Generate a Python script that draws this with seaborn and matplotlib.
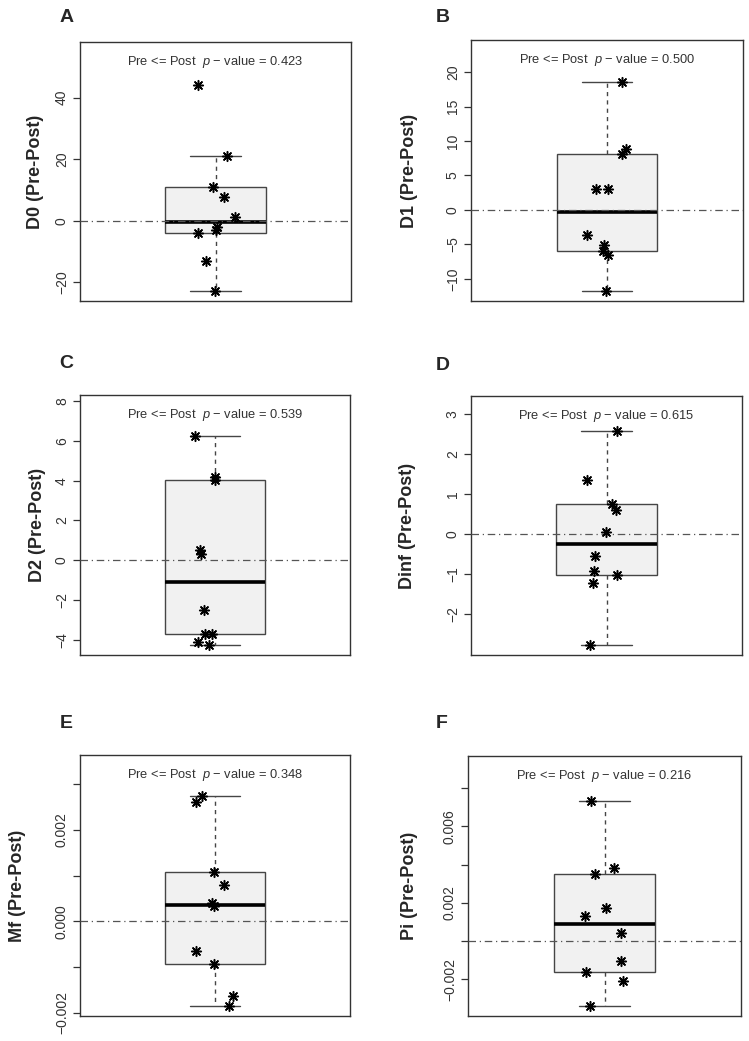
# Pre vs Post differences: six boxplots with jittered points (panels A-F)

import numpy as np
import matplotlib
matplotlib.use("Agg")
import matplotlib.pyplot as plt
import seaborn as sns

sns.set_theme(style="ticks")
plt.rcParams['font.family'] = ['Liberation Sans', 'DejaVu Sans']
plt.rcParams['mathtext.fontset'] = 'custom'
plt.rcParams['mathtext.it'] = 'Liberation Sans:italic'
plt.rcParams['mathtext.rm'] = 'Liberation Sans'

# ---- data (Pre - Post differences) ----
d0 = [44.0, 21.0, 11.1, 7.8, 1.1, -2.2, -3.1, -4.0, -13.0, -23.0]
d1 = [18.6, 8.9, 8.15, 3.06, 3.06, -3.64, -5.1, -6.0, -6.5, -11.8]
d2 = [6.26, 4.16, 4.04, 0.51, 0.32, -2.49, -3.70, -3.74, -4.14, -4.29]
dinf = [2.56, 1.35, 0.75, 0.59, 0.05, -0.55, -0.93, -1.01, -1.21, -2.77]
mf = [0.00274, 0.00260, 0.00108, 0.00079, 0.00039, 0.00034,
      -0.00065, -0.00094, -0.00164, -0.00186]
pi = [0.00734, 0.00381, 0.00351, 0.00174, 0.00132, 0.00044,
      -0.00104, -0.00162, -0.00210, -0.00341]

panel_letters = ['A', 'B', 'C', 'D', 'E', 'F']
variables = ['D0', 'D1', 'D2', 'Dinf', 'Mf', 'Pi']
p_values = ['0.423', '0.500', '0.539', '0.615', '0.348', '0.216']
series = [d0, d1, d2, dinf, mf, pi]

# y ticks and which of them carry a label
tick_sets = [
    ([-20, 0, 20, 40], ['\u221220', '0', '20', '40']),
    ([-10, -5, 0, 5, 10, 15, 20], ['\u221210', '\u22125', '0', '5', '10', '15', '20']),
    ([-4, -2, 0, 2, 4, 6, 8], ['\u22124', '\u22122', '0', '2', '4', '6', '8']),
    ([-2, -1, 0, 1, 2, 3], ['\u22122', '\u22121', '0', '1', '2', '3']),
    ([-0.002, -0.001, 0, 0.001, 0.002, 0.003], ['\u22120.002', '', '0.000', '', '0.002', '']),
    ([-0.002, 0, 0.002, 0.004, 0.006, 0.008], ['\u22120.002', '', '0.002', '', '0.006', '']),
]

# layout in pixels: (left, top, right, bottom), label x, ylabel x
W, H = 749, 1041
boxes_px = [(80, 42, 351, 301), (471, 40, 743, 301),
            (80, 395, 350, 655), (471, 396, 742, 655),
            (80, 755, 350, 1016), (468, 756, 741, 1016)]
letter_px = [(67, 18), (443, 18), (66, 363), (443, 365), (66, 723), (442, 723)]
ylabel_x = [35, 410, 37, 408, 18, 409]


def fivenum_stats(values):
    """Tukey hinges + whiskers at 1.5 IQR (like R's boxplot)"""
    x = np.sort(np.asarray(values, dtype=float))
    n = len(x)
    n4 = np.floor((n + 3) / 2) / 2
    d = np.array([1, n4, (n + 1) / 2, n + 1 - n4, n]) - 1
    fn = 0.5 * (x[np.floor(d).astype(int)] + x[np.ceil(d).astype(int)])
    q1, med, q3 = fn[1], fn[2], fn[3]
    iqr = q3 - q1
    lo = x[x >= q1 - 1.5 * iqr].min()
    hi = x[x <= q3 + 1.5 * iqr].max()
    return dict(med=med, q1=q1, q3=q3, whislo=lo, whishi=hi, fliers=[])


fig = plt.figure(figsize=(W / 100, H / 100), dpi=100)
fig.patch.set_facecolor('white')
rng_seed = 7

edge = '#454545'
for i, vals in enumerate(series):
    l, t, r, b = boxes_px[i]
    ax = fig.add_axes([l / W, 1 - b / H, (r - l) / W, (b - t) / H])
    ax.set_facecolor('white')

    ax.bxp([fivenum_stats(vals)], positions=[0], widths=0.4, capwidths=0.2,
           patch_artist=True, showfliers=False,
           boxprops=dict(facecolor='#f1f1f1', edgecolor=edge, linewidth=1.0),
           whiskerprops=dict(color=edge, linewidth=1.0, linestyle=(0, (3, 3))),
           capprops=dict(color=edge, linewidth=1.0),
           medianprops=dict(color='black', linewidth=2.6),
           zorder=2)

    ax.axhline(0, color='#555555', linewidth=0.9, linestyle=(0, (6, 3, 1, 3)), zorder=3)

    np.random.seed(rng_seed + i)
    sns.stripplot(y=vals, ax=ax, jitter=0.08, color='black', marker=(8, 2, 0),
                  size=7, linewidth=1.1, zorder=4)

    lo, hi = min(vals), max(vals) * 1.25
    pad = 0.04 * (hi - lo)
    ax.set_ylim(lo - pad, hi + pad)
    ax.set_xlim(-0.54, 0.54)
    ax.set_xticks([])
    ax.set_xlabel('')

    ticks, labels = tick_sets[i]
    ax.set_yticks(ticks)
    ax.set_yticklabels(labels, rotation=90, va='center', fontsize=10, color='#333333')
    ax.tick_params(axis='y', direction='out', length=5, width=0.9, color='#333333', pad=3)
    for sp in ax.spines.values():
        sp.set_visible(True)
        sp.set_color('#333333')
        sp.set_linewidth(1.0)

    ax.text(0.5, 0.922, 'Pre <= Post  $p$ \u2212 value = ' + p_values[i],
            transform=ax.transAxes, ha='center', va='center',
            fontsize=9.3, color='#333333')

    fig.text(ylabel_x[i] / W, 1 - ((t + b) / 2) / H, variables[i] + ' (Pre-Post)',
             rotation=90, ha='center', va='center', fontsize=13, fontweight='bold')
    lx, ly = letter_px[i]
    fig.text(lx / W, 1 - ly / H, panel_letters[i], ha='center', va='center',
             fontsize=14, fontweight='bold')

fig.savefig('out.png', dpi=100, facecolor='white')
